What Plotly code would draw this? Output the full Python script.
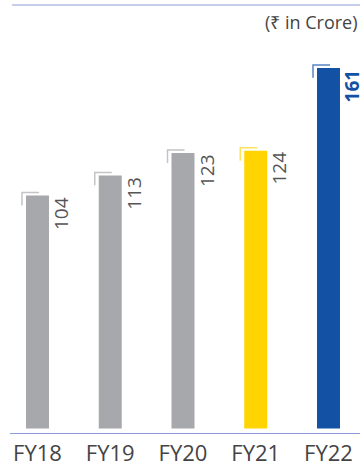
import plotly.graph_objects as go

categories = ["FY18", "FY19", "FY20", "FY21", "FY22"]
values = [104, 113, 123, 124, 161]
bar_colors = ["#a7a8ab", "#a7a8ab", "#a7a8ab", "#ffd400", "#1351a5"]
bracket_colors = ["#c4c4c6", "#c4c4c6", "#c4c4c6", "#ffe15a", "#5a82c6"]
label_colors = ["#555555", "#555555", "#555555", "#555555", "#1351a5"]
label_bold = [False, False, False, False, True]
unit_text = "(₹ in Crore)"

xs = list(range(len(categories)))
bar_w = 0.316
px_x = 72.75   # pixels per x unit
px_y = 2.255   # pixels per y unit

fig = go.Figure()
fig.add_trace(go.Bar(
    x=xs, y=values, width=bar_w,
    marker=dict(color=bar_colors, line=dict(width=0)),
    hoverinfo="skip",
))

shapes = []
annotations = []
for i, (v, bc, lc, b) in enumerate(zip(values, bracket_colors, label_colors, label_bold)):
    x0 = i - bar_w / 2 - 4 / px_x
    x1 = x0 + 17 / px_x
    y0 = v + 3 / px_y
    y1 = y0 - 13 / px_y
    shapes.append(dict(type="path", xref="x", yref="y",
                       path=f"M {x1},{y0} L {x0},{y0} L {x0},{y1}",
                       line=dict(color=bc, width=1.5)))
    txt = f"<b>{v}</b>" if b else str(v)
    annotations.append(dict(x=i + bar_w / 2, y=v, xref="x", yref="y",
                            text=txt, textangle=-90, showarrow=False, borderpad=0,
                            xanchor="left", yanchor="top", xshift=-2, yshift=0,
                            font=dict(family="Open Sans", size=19, color=lc)))

shapes.append(dict(type="line", xref="paper", yref="paper", x0=0.006, x1=1, y0=1, y1=1,
                   line=dict(color="#8e9bd8", width=1.2)))
annotations.append(dict(x=1.0, y=0.96, xref="paper", yref="paper", text=unit_text,
                        showarrow=False, xanchor="right", yanchor="middle",
                        font=dict(family="Open Sans", size=18, color="#444444")))

fig.update_layout(
    width=360, height=467,
    margin=dict(l=10, r=0, t=5, b=31),
    paper_bgcolor="white", plot_bgcolor="white",
    showlegend=False,
    shapes=shapes, annotations=annotations,
    xaxis=dict(range=[-0.378, 4.433], tickvals=xs, ticktext=categories,
               showline=True, linecolor="#8e9bd8", linewidth=1.2,
               showgrid=False, zeroline=False, ticks="",
               tickfont=dict(family="Open Sans", size=22, color="#444444")),
    yaxis=dict(range=[-2, 189.1], visible=False, showgrid=False, zeroline=False),
)

fig.write_html("out.html")
